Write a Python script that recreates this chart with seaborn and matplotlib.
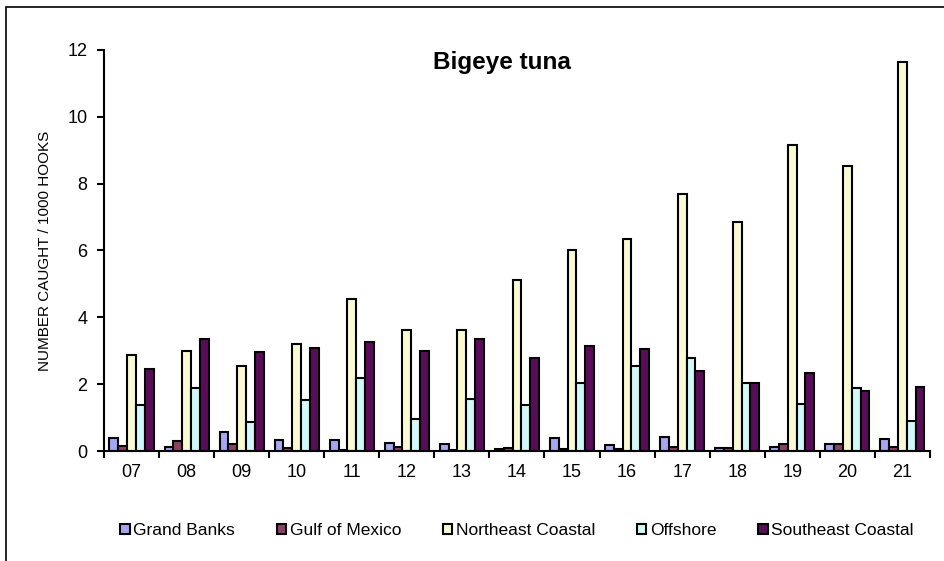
import numpy as np
import pandas as pd
import seaborn as sns
import matplotlib.pyplot as plt
from matplotlib.patches import Rectangle

years = ["07", "08", "09", "10", "11", "12", "13", "14", "15", "16", "17", "18", "19", "20", "21"]
grand_banks = [0.38, 0.12, 0.57, 0.33, 0.33, 0.25, 0.22, 0.05, 0.40, 0.17, 0.42, 0.10, 0.13, 0.22, 0.37]
gulf_of_mexico = [0.15, 0.30, 0.20, 0.08, 0.03, 0.12, 0.03, 0.08, 0.05, 0.05, 0.12, 0.10, 0.22, 0.22, 0.12]
northeast_coastal = [2.88, 3.00, 2.55, 3.20, 4.55, 3.62, 3.62, 5.13, 6.02, 6.35, 7.70, 6.85, 9.17, 8.52, 11.65]
offshore = [1.38, 1.88, 0.88, 1.52, 2.20, 0.95, 1.55, 1.38, 2.03, 2.55, 2.77, 2.03, 1.40, 1.88, 0.90]
southeast_coastal = [2.45, 3.35, 2.95, 3.08, 3.27, 3.00, 3.35, 2.77, 3.15, 3.05, 2.38, 2.03, 2.33, 1.80, 1.93]

areas = ["Grand Banks", "Gulf of Mexico", "Northeast Coastal", "Offshore", "Southeast Coastal"]
colors = ["#9999FF", "#993366", "#FFFFCC", "#CCFFFF", "#660066"]

series = [grand_banks, gulf_of_mexico, northeast_coastal, offshore, southeast_coastal]
df = pd.DataFrame({
    "year": years * len(areas),
    "area": np.repeat(areas, len(years)),
    "value": np.concatenate(series),
})

sns.set_style("white")
plt.rcParams["font.family"] = ["Liberation Sans", "DejaVu Sans"]
plt.rcParams["text.color"] = "black"
plt.rcParams["axes.labelcolor"] = "black"
plt.rcParams["xtick.color"] = "black"
plt.rcParams["ytick.color"] = "black"

fig = plt.figure(figsize=(9.45, 5.61), dpi=100)
ax = fig.add_axes([0.110, 0.196, 0.874, 0.715])

sns.barplot(data=df, x="year", y="value", hue="area", hue_order=areas,
            palette=colors, order=years, width=0.8, gap=0,
            edgecolor="black", linewidth=1.5, ax=ax, legend=True)

ax.set_xlim(-0.5, len(years) - 0.5)
ax.set_ylim(0, 12)
ax.set_yticks(range(0, 13, 2))
ax.set_xlabel("")
ax.set_ylabel("NUMBER CAUGHT / 1000 HOOKS", fontsize=11, labelpad=11)

for s in ["top", "right"]:
    ax.spines[s].set_visible(False)
for s in ["left", "bottom"]:
    ax.spines[s].set_color("black")
    ax.spines[s].set_linewidth(1.5)

ax.tick_params(axis="y", which="major", direction="out", length=5, width=1.5,
               labelsize=13, left=True, pad=7)
ax.tick_params(axis="x", which="major", length=0, labelsize=13, pad=9)
ax.set_xticks(np.arange(-0.5, len(years)), minor=True)
ax.tick_params(axis="x", which="minor", direction="out", length=5, width=1.5, bottom=True)

ax.text(0.482, 0.968, "Bigeye tuna", transform=ax.transAxes, ha="center", va="center",
        fontsize=17.5, fontweight="bold")

handles, labels = ax.get_legend_handles_labels()
ax.legend(handles, labels, loc="center", bbox_to_anchor=(0.5, -0.198), ncol=5,
          frameon=False, fontsize=12.5, handlelength=0.55, handleheight=0.55,
          handletextpad=0.2, columnspacing=2.4)

fig.patches.append(Rectangle((6 / 945, -0.1), 1.2, 1 - 7 / 561 + 0.1,
                             transform=fig.transFigure, fill=False,
                             edgecolor="black", linewidth=1.2))

fig.savefig("out.png", dpi=100)
